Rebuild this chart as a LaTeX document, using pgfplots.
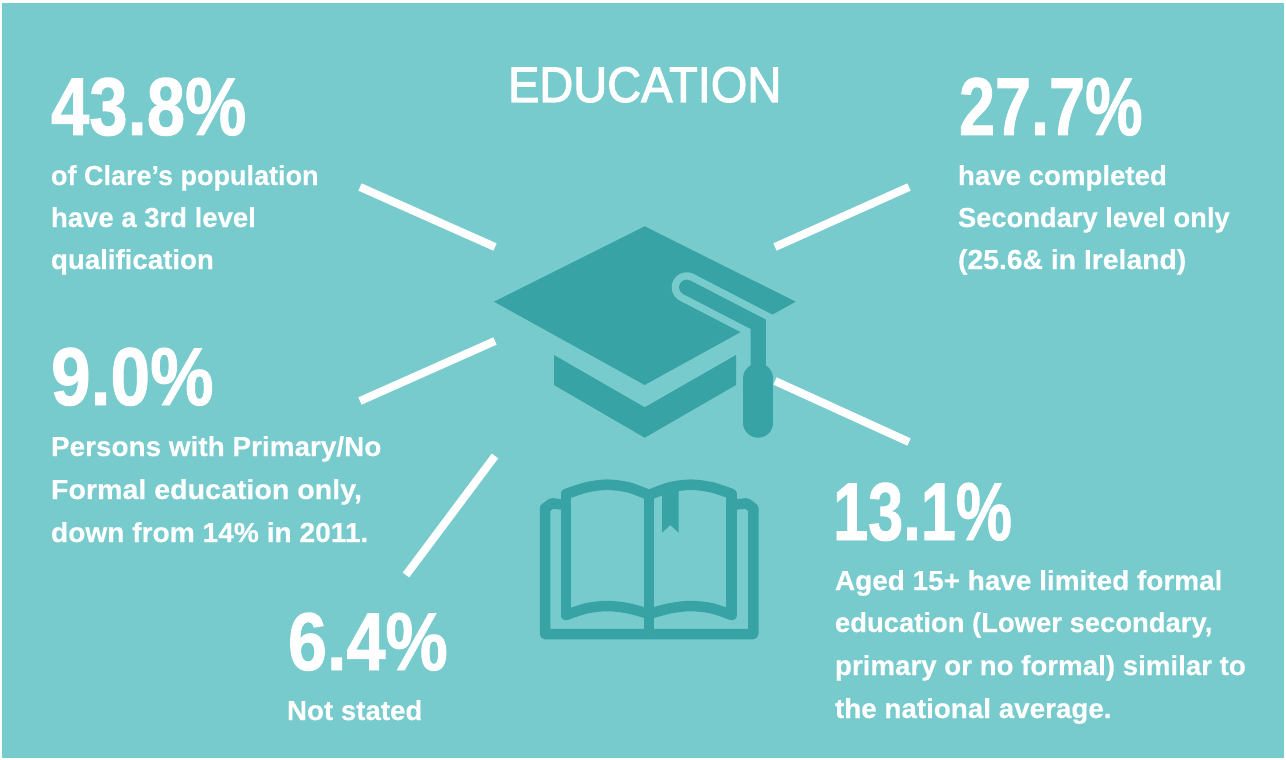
\documentclass[border=0pt]{standalone}
\usepackage{fontspec}
\usepackage{graphicx}
\usepackage{pgfplots}
\pgfplotsset{compat=1.18}
\setmainfont{Liberation Sans}
\newfontface\bigface[FakeBold=1.2]{Liberation Sans Bold}
\newfontface\bodyface[FakeBold=0.35]{Liberation Sans Bold}
\newfontface\titleface[FakeBold=2.2]{Liberation Sans}
\definecolor{bgteal}{HTML}{78CBCD}
\definecolor{darkteal}{HTML}{38A3A5}
\newcommand{\bignum}[2]{\scalebox{#1}[1]{\bigface\fontsize{82}{82}\selectfont #2}}
\newcommand{\bodyline}[2]{\scalebox{#1}[1]{\bodyface\fontsize{27.5}{30}\selectfont #2}}
\tikzset{
  txt/.style={anchor=base west, inner sep=0pt, outer sep=0pt, text=white},
  ray/.style={white, line width=8pt, line cap=butt},
  bk/.style={darkteal, line width=10.5pt, line cap=round, line join=round},
}
\begin{document}
\begin{tikzpicture}
\begin{axis}[
  scale only axis, width=1286pt, height=760pt,
  xmin=0, xmax=1286, ymin=0, ymax=760, y dir=reverse,
  axis lines=none, no markers, clip=false,
]
% page and panel
\addplot[fill=white, draw=none] coordinates {(0,0) (1286,0) (1286,760) (0,760)} -- cycle;
\addplot[fill=bgteal, draw=none] coordinates {(2,3) (1284,3) (1284,758) (2,758)} -- cycle;
% rays
\addplot[ray] coordinates {(360,187) (495,247)};
\addplot[ray] coordinates {(909,187) (775,247)};
\addplot[ray] coordinates {(360,401) (495,341)};
\addplot[ray] coordinates {(495,456) (406,575)};
\addplot[ray] coordinates {(775,381) (909,442)};
% cap
\addplot[fill=darkteal, draw=none] coordinates {(644.7,226.3) (795.7,301.7) (644.7,385) (494,301.7)} -- cycle;
\addplot[fill=darkteal, draw=none] coordinates {(554,355) (644.7,407.3) (736,355) (736,385) (644.7,437.7) (554,385)} -- cycle;
\addplot[bgteal, line width=30pt, line cap=round] coordinates {(686.7,287.3) (780,335.5)};
\addplot[darkteal, line width=15.3pt, line cap=round, line join=miter] coordinates {(686.7,287.3) (758.3,324.3) (758.3,372)};
\addplot[darkteal, line width=30pt, line cap=round] coordinates {(758.3,378.3) (758.3,422.7)};
% book
\addplot[bk] coordinates {(566,505) (551.7,503.3) (545,508.3) (545,634) (753.3,634) (753.3,508.3) (746.7,503.3) (731.7,505)};
\addplot[bk] coordinates {(566,494) (566,615)};
\addplot[bk] coordinates {(731.7,494) (731.7,615)};
\addplot[bk] coordinates {(649,495) (649,634)};
\addplot[bk, smooth] coordinates {(566,494) (586.7,487.3) (606.7,484.7) (628.3,487.3) (649,495)};
\addplot[bk, smooth] coordinates {(649,495) (670,487.3) (690.7,484.7) (711.7,487.3) (731.7,494)};
\addplot[bk, smooth] coordinates {(566,615) (586.7,608.3) (607.3,606) (628.3,608.3) (649,614)};
\addplot[bk, smooth] coordinates {(649,614) (670,608.3) (690.7,606) (711.7,608.3) (731.7,615)};
\addplot[fill=darkteal, draw=none] coordinates {(662,490) (678.7,490) (678.7,532.7) (670.3,525) (662,532.7)} -- cycle;
% title
\node[txt] at (axis cs:508,102) {\scalebox{0.94}[1]{\titleface\fontsize{50}{50}\selectfont EDUCATION}};
% big numbers
\node[txt] at (axis cs:51,135) {\bignum{0.84}{43.8\%}};
\node[txt] at (axis cs:959,135) {\bignum{0.79}{27.7\%}};
\node[txt] at (axis cs:51,405) {\bignum{0.87}{9.0\%}};
\node[txt] at (axis cs:833,540) {\bignum{0.77}{13.1\%}};
\node[txt] at (axis cs:288,670) {\bignum{0.855}{6.4\%}};
% body text
\node[txt] at (axis cs:51,185) {\bodyline{0.982}{of Clare’s population}};
\node[txt] at (axis cs:51,227) {\bodyline{1}{have a 3rd level}};
\node[txt] at (axis cs:51,269) {\bodyline{1.005}{qualification}};
\node[txt] at (axis cs:958,185) {\bodyline{1.005}{have completed}};
\node[txt] at (axis cs:958,227) {\bodyline{0.993}{Secondary level only}};
\node[txt] at (axis cs:958,269) {\bodyline{1.03}{(25.6\& in Ireland)}};
\node[txt] at (axis cs:51,456) {\bodyline{1.015}{Persons with Primary/No}};
\node[txt] at (axis cs:51,499) {\bodyline{1.04}{Formal education only,}};
\node[txt] at (axis cs:51,542) {\bodyline{1.023}{down from 14\% in 2011.}};
\node[txt] at (axis cs:287,720) {\bodyline{1.007}{Not stated}};
\node[txt] at (axis cs:835,590) {\bodyline{1.016}{Aged 15+ have limited formal}};
\node[txt] at (axis cs:835,632) {\bodyline{0.997}{education (Lower secondary,}};
\node[txt] at (axis cs:835,675) {\bodyline{1.007}{primary or no formal) similar to}};
\node[txt] at (axis cs:835,718) {\bodyline{1.011}{the national average.}};
\end{axis}
\end{tikzpicture}
\end{document}
